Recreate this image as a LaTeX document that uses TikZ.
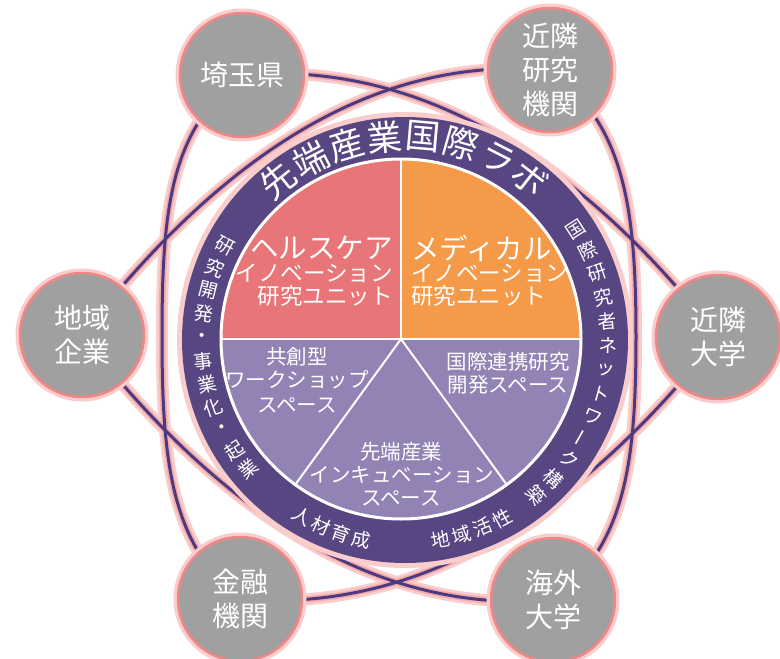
\documentclass[tikz,border=0pt]{standalone}
\usepackage{fontspec}
\setmainfont{Noto Sans CJK JP}
\usetikzlibrary{backgrounds}
\definecolor{ringc}{RGB}{88,70,130}
\definecolor{orbitc}{RGB}{76,58,128}
\definecolor{glowc}{RGB}{240,135,135}
\definecolor{glowl}{RGB}{250,205,205}
\definecolor{nodegray}{RGB}{160,160,160}
\definecolor{salmonc}{RGB}{232,118,120}
\definecolor{orangec}{RGB}{244,154,72}
\definecolor{lavc}{RGB}{146,131,180}
\tikzset{
  cnode/.style={circle, minimum size=124pt, inner sep=0pt, fill=nodegray,
    draw=glowc, line width=2.5pt, preaction={draw=glowl, line width=9pt},
    text=white, align=center, font=\fontsize{28}{34}\selectfont},
  orbitglowA/.style={draw=glowl, line width=12pt},
  orbitglowB/.style={draw=glowc!70!white, line width=6.5pt},
  orbitline/.style={draw=orbitc, line width=3pt},
  ringtitle/.style={text=white, inner sep=0pt, font=\fontsize{35}{35}\selectfont},
  ringtxt/.style={text=white, inner sep=0pt, font=\fontsize{19}{19}\selectfont},
  pietxt/.style={text=white, inner sep=0pt, font=\fontsize{20.5}{20.5}\selectfont},
  piebig/.style={text=white, inner sep=0pt, font=\fontsize{28.5}{28.5}\selectfont},
  piemid/.style={text=white, inner sep=0pt, font=\fontsize{22.5}{22.5}\selectfont}
}
\newcommand\orbitpaths[1]{%
  \draw[#1] (sai.center) .. controls (420,60) and (580,160) .. (kindai.center);
  \draw[#1] (kinken.center) .. controls (372,55) and (220,158) .. (chiiki.center);
  \draw[#1] (kaigai.center) .. controls (375,615) and (220,512) .. (chiiki.center);
  \draw[#1] (kinyu.center) .. controls (418,614) and (580,514) .. (kindai.center);
  \draw[#1] (kinken.center) .. controls (625,125) and (636,210) .. (rmid) .. controls (636,464) and (625,545) .. (kaigai.center);
  \draw[#1] (sai.center) .. controls (170,130) and (162,210) .. (lmid) .. controls (162,464) and (172,545) .. (kinyu.center);
}
\begin{document}
\begin{tikzpicture}[x=1pt,y=-1pt]
\useasboundingbox (0,0) rectangle (780,659);
% central disc
\fill[glowl] (405,340) circle[radius=228];
\fill[ringc] (405,340) circle[radius=223];
\begin{scope}
  \clip (401,339) circle[radius=180];
  \fill[salmonc] (200,150) rectangle (401,339);
  \fill[orangec] (401,150) rectangle (610,339);
  \fill[lavc] (200,339) rectangle (610,530);
\end{scope}
\draw[white, line width=3pt] (401,339) circle[radius=180];
\draw[white, line width=2.5pt] (401,159) -- (401,339);
\draw[white, line width=2.5pt] (221,339) -- (581,339);
\draw[white, line width=2pt] (295,485) -- (401,339) -- (507,485);
% outer nodes
\node[cnode] (sai) at (242,75) {埼玉県};
\node[cnode] (kinken) at (550,70) {近隣\\研究\\機関};
\node[cnode] (chiiki) at (82,335) {地域\\企業};
\node[cnode] (kindai) at (718,337) {近隣\\大学};
\node[cnode] (kinyu) at (240,599) {金融\\機関};
\node[cnode] (kaigai) at (553,600) {海外\\大学};
\coordinate (rmid) at (636,337);
\coordinate (lmid) at (162,337);
% orbits behind
\begin{scope}[on background layer]
  \orbitpaths{orbitglowA}
  \orbitpaths{orbitglowB}
  \orbitpaths{orbitline}
\end{scope}
% ring texts
\foreach \c [count=\i from 0] in {先,端,産,業,国,際,ラ,ボ} {
  \pgfmathsetmacro\ang{128.5-\i*10.9}
  \node[ringtitle, rotate=\ang-90] (ti\i) at ({405+204*cos(\ang)},{340-204*sin(\ang)}) {\c};
}
\foreach \c [count=\i from 0] in {研,究,開,発,・,事,業,化,・,起,業} {
  \pgfmathsetmacro\ang{152.5+\i*6.7}
  \node[ringtxt, rotate=\ang-180] (le\i) at ({405+203*cos(\ang)},{340-203*sin(\ang)}) {\c};
}
\foreach \c/\r [count=\i from 0] in {国/0,際/0,研/0,究/0,者/0,ネ/0,ッ/0,ト/0,ワ/0,ー/90,ク/0,構/0,築/0} {
  \pgfmathsetmacro\ang{32.9-\i*6.9}
  \node[ringtxt, rotate=\ang+\r] (ri\i) at ({405+203*cos(\ang)},{340-203*sin(\ang)}) {\c};
}
\foreach \c [count=\i from 0] in {人,材,育,成} {
  \pgfmathsetmacro\ang{239.7+\i*6}
  \node[ringtxt, rotate=\ang+90] (bl\i) at ({405+204*cos(\ang)},{340-204*sin(\ang)}) {\c};
}
\foreach \c [count=\i from 0] in {地,域,活,性} {
  \pgfmathsetmacro\ang{280+\i*6.2}
  \node[ringtxt, rotate=\ang+90] (br\i) at ({405+203*cos(\ang)},{340-203*sin(\ang)}) {\c};
}
% pie texts
\node[piebig, anchor=east] (h1) at (393,248) {ヘルスケア};
\node[piemid, anchor=east] (h2) at (393,273) {イノベーション};
\node[piemid, anchor=east] (h3) at (393,296) {研究ユニット};
\node[piebig, anchor=west] (m1) at (411,248) {メディカル};
\node[piemid, anchor=west] (m2) at (411,273) {イノベーション};
\node[piemid, anchor=west] (m3) at (411,296) {研究ユニット};
\node[pietxt] (k1) at (297,357) {共創型};
\node[pietxt] (k2) at (297,380) {ワークショップ};
\node[pietxt] (k3) at (297,405) {スペース};
\node[pietxt] (g1) at (508,362) {国際連携研究};
\node[pietxt] (g2) at (508,385) {開発スペース};
\node[pietxt] (s1) at (401,452) {先端産業};
\node[pietxt] (s2) at (402,475) {インキュベーション};
\node[pietxt] (s3) at (401,498) {スペース};
\end{tikzpicture}
\end{document}
